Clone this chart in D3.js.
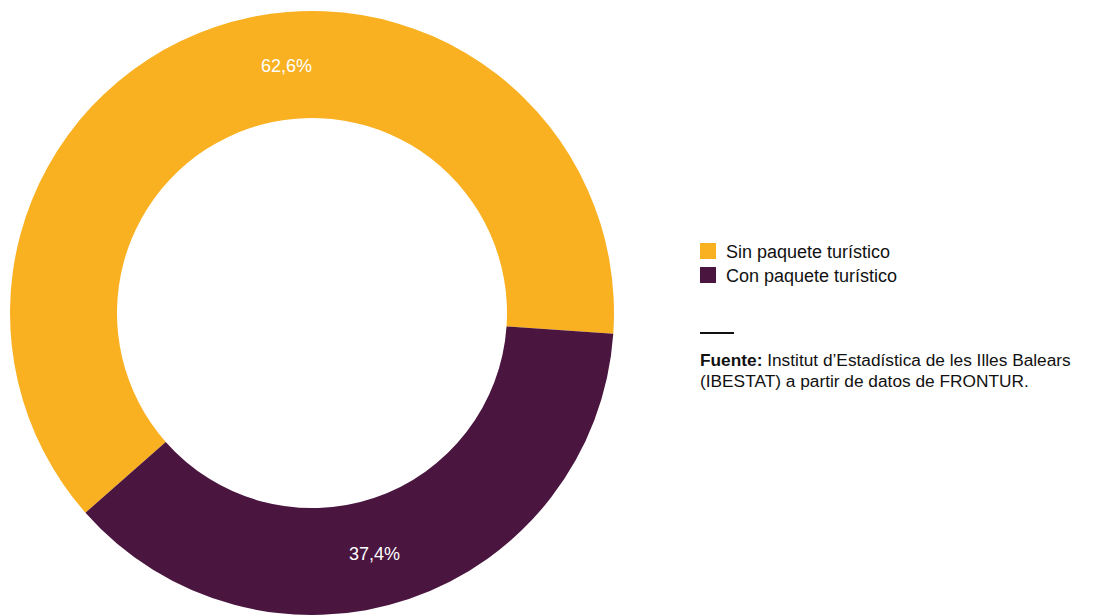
<!DOCTYPE html>
<html>
<head>
<meta charset="utf-8">
<style>
  body { margin: 0; background: #fff; }
  svg { display: block; font-family: 'Liberation Sans', Arial, Helvetica, sans-serif; }
</style>
</head>
<body>
<svg width="1105" height="615"></svg>
<script src="https://cdn.jsdelivr.net/npm/d3@7"></script>
<script>
// ---- data ----
let categories = ["Sin paquete turístico", "Con paquete turístico"];
let values = [62.6, 37.4];
let valueLabels = ["62,6%", "37,4%"];
let colors = ["#F9B122", "#4A163F"];
// where along each slice the label sits (0 = start, 1 = end)
let labelPos = [0.557, 0.531];

let sourceBold = "Fuente:";
let sourceLines = [" Institut d\u2019Estadística de les Illes Balears", "(IBESTAT) a partir de datos de FRONTUR."];

// ---- layout ----
let svg = d3.select("svg");
let cx = 312, cy = 313;
let outerR = 302, innerR = 195;
let startDeg = 228.6;

let pie = d3.pie()
    .sort(null)
    .value(d => d)
    .startAngle(startDeg * Math.PI / 180)
    .endAngle(startDeg * Math.PI / 180 + 2 * Math.PI);

let arcs = pie(values);

let arc = d3.arc().innerRadius(innerR).outerRadius(outerR);
let labelR = (innerR + outerR) / 2;

let g = svg.append("g").attr("transform", `translate(${cx},${cy})`);

g.selectAll("path.slice")
    .data(arcs)
    .join("path")
    .attr("class", "slice")
    .attr("d", arc)
    .attr("fill", (d, i) => colors[i]);

// labels
g.selectAll("text.pct")
    .data(arcs)
    .join("text")
    .attr("class", "pct")
    .attr("transform", function(d, i){
        let a = d.startAngle + (d.endAngle - d.startAngle) * labelPos[i];
        let x = Math.sin(a) * labelR;
        let y = -Math.cos(a) * labelR;
        return `translate(${x},${y})`;
    })
    .attr("text-anchor", "middle")
    .attr("dy", "0.36em")
    .attr("fill", "#fff")
    .attr("font-size", 18)
    .text((d, i) => valueLabels[i]);

// ---- legend ----
let legend = svg.append("g").attr("transform", "translate(700,243)");
let rows = legend.selectAll("g")
    .data(categories)
    .join("g")
    .attr("transform", (d, i) => `translate(0,${i * 24})`);

rows.append("rect")
    .attr("width", 16)
    .attr("height", 16)
    .attr("fill", (d, i) => colors[i]);

rows.append("text")
    .attr("x", 26)
    .attr("y", 15)
    .attr("font-size", 18)
    .attr("fill", "#111")
    .text(d => d);

// ---- source ----
svg.append("line")
    .attr("x1", 700).attr("x2", 734)
    .attr("y1", 333).attr("y2", 333)
    .attr("stroke", "#111")
    .attr("stroke-width", 2);

let src = svg.append("text")
    .attr("x", 700)
    .attr("y", 366)
    .attr("font-size", 17.3)
    .attr("fill", "#111");
src.append("tspan").attr("font-weight", "bold").text(sourceBold);
src.append("tspan").text(sourceLines[0]);

svg.append("text")
    .attr("x", 700)
    .attr("y", 387)
    .attr("font-size", 17.3)
    .attr("fill", "#111")
    .text(sourceLines[1]);
</script>
</body>
</html>
